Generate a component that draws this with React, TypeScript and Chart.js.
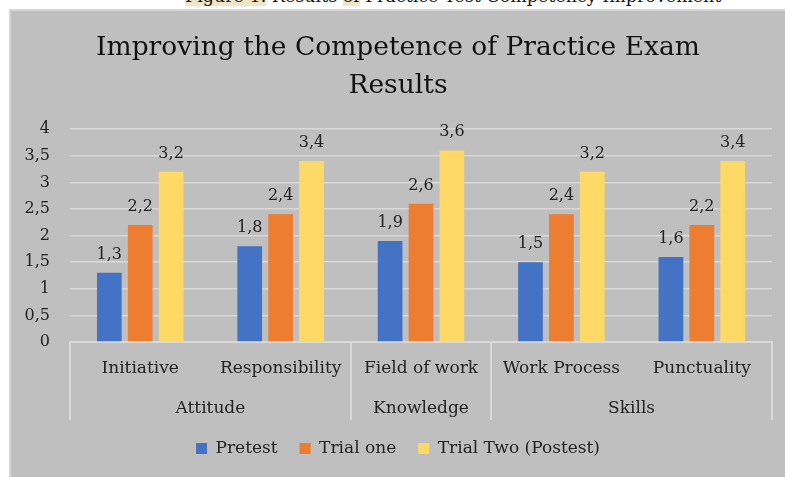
import { useEffect, useRef } from "react";
import { Chart, registerables } from "chart.js";

Chart.register(...registerables);

const categories = ["Initiative", "Responsibility", "Field of work", "Work Process", "Punctuality"];
const groups = ["Attitude", "Knowledge", "Skills"];
const groupSpans = [2, 1, 2];
const seriesNames = ["Pretest", "Trial one", "Trial Two (Postest)"];
const pretest = [1.3, 1.8, 1.9, 1.5, 1.6];
const trialOne = [2.2, 2.4, 2.6, 2.4, 2.2];
const trialTwo = [3.2, 3.4, 3.6, 3.2, 3.4];
const seriesColors = ["#4472C4", "#ED7D31", "#FFD966"];
const titleLines = ["Improving the Competence of Practice Exam", "Results"];

const FONT = "'DejaVu Serif', serif";
const fmt = (v: number) => String(v).replace(".", ",");

const valueLabels = {
  id: "valueLabels",
  afterDatasetsDraw(chart: any) {
    const ctx = chart.ctx;
    ctx.save();
    ctx.font = `16px ${FONT}`;
    ctx.fillStyle = "#222";
    ctx.textAlign = "center";
    ctx.textBaseline = "alphabetic";
    chart.data.datasets.forEach((ds: any, di: number) => {
      const meta = chart.getDatasetMeta(di);
      meta.data.forEach((el: any, i: number) => {
        ctx.fillText(fmt(ds.data[i]), el.x, el.y - 14);
      });
    });
    ctx.restore();
  },
};

const groupAxis = {
  id: "groupAxis",
  afterDraw(chart: any) {
    const x = chart.scales.x;
    const ctx = chart.ctx;
    const top = x.top;
    const bottom = x.top + 78;
    ctx.save();
    ctx.strokeStyle = "#d9d9d9";
    ctx.lineWidth = 2;
    let start = 0;
    const bounds = [start];
    groupSpans.forEach((s) => {
      start += s;
      bounds.push(start);
    });
    bounds.forEach((b) => {
      const px = Math.round(x.getPixelForValue(b - 0.5));
      ctx.beginPath();
      ctx.moveTo(px, top);
      ctx.lineTo(px, bottom);
      ctx.stroke();
    });
    ctx.font = `17px ${FONT}`;
    ctx.fillStyle = "#222";
    ctx.textAlign = "center";
    ctx.textBaseline = "alphabetic";
    groups.forEach((g, gi) => {
      const a = bounds[gi] - 0.5;
      const b = bounds[gi + 1] - 0.5;
      const cx = (x.getPixelForValue(a) + x.getPixelForValue(b)) / 2;
      ctx.fillText(g, cx, top + 71);
    });
    ctx.restore();
  },
};

export default function App() {
  const ref = useRef<HTMLCanvasElement>(null);
  useEffect(() => {
    if (!ref.current) return;
    const chart = new Chart(ref.current, {
      type: "bar",
      data: {
        labels: categories,
        datasets: [pretest, trialOne, trialTwo].map((d, i) => ({
          label: seriesNames[i],
          data: d,
          backgroundColor: seriesColors[i],
          borderWidth: 0,
          categoryPercentage: 0.66,
          barPercentage: 0.8,
        })),
      },
      options: {
        animation: false,
        responsive: false,
        maintainAspectRatio: false,
        layout: { padding: { top: 0, left: 14, right: 13, bottom: 10 } },
        plugins: {
          title: {
            display: true,
            text: titleLines,
            color: "#111",
            font: { family: FONT, size: 26.5, weight: "normal", lineHeight: 1.4 },
            padding: { top: 20, bottom: 25 },
          },
          legend: {
            position: "bottom",
            labels: {
              color: "#222",
              font: { family: FONT, size: 17 },
              boxWidth: 11,
              boxHeight: 11,
              padding: 22,
            },
          },
          tooltip: { enabled: false },
        },
        scales: {
          x: {
            grid: { display: false, drawTicks: false },
            border: { display: true, color: "#d9d9d9", width: 2 },
            ticks: { color: "#222", font: { family: FONT, size: 17 }, padding: 16, maxRotation: 0, autoSkip: false },
            afterFit: (s: any) => {
              s.height = 76;
            },
          },
          y: {
            min: 0,
            max: 4,
            grid: { color: "#d9d9d9", lineWidth: 1.5, drawTicks: false },
            border: { display: false },
            ticks: {
              stepSize: 0.5,
              color: "#222",
              font: { family: FONT, size: 16 },
              padding: 20,
              callback: (v: any) => fmt(Number(v)),
            },
            afterFit: (s: any) => {
              s.width = 46;
            },
          },
        },
      },
      plugins: [valueLabels, groupAxis],
    });
    return () => chart.destroy();
  }, []);

  return (
    <div style={{ position: "absolute", left: 0, top: 0, width: 785, height: 477, background: "#fff", overflow: "hidden" }}>
      <div
        style={{
          position: "absolute",
          left: 185,
          top: -15,
          fontFamily: FONT,
          fontSize: 17.5,
          whiteSpace: "nowrap",
          color: "#111",
          lineHeight: "22px",
        }}
      >
        <span style={{ background: "#f1e4c8" }}>Figure 1.</span> Results <span style={{ background: "#f1e4c8" }}>of</span> Practice Test Competency Improvement
      </div>
      <div
        style={{
          position: "absolute",
          left: 9,
          top: 9,
          width: 790,
          height: 480,
          background: "#bfbfbf",
          borderLeft: "2px solid #d6d6d6",
          borderTop: "2px solid #d6d6d6",
          boxSizing: "border-box",
        }}
      />
      <canvas ref={ref} width={775} height={467} style={{ position: "absolute", left: 10, top: 10, width: 775, height: 467 }} />
    </div>
  );
}
